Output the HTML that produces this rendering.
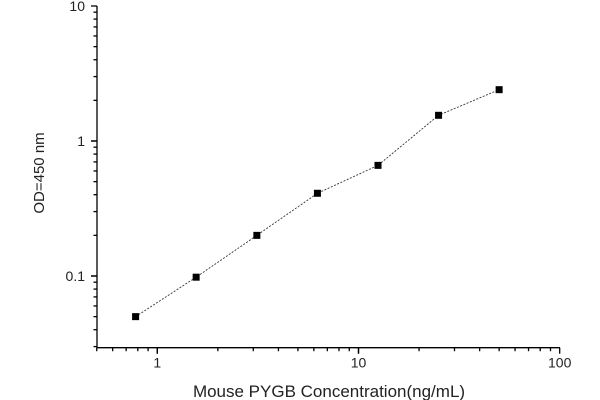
<!DOCTYPE html>
<html><head><meta charset="utf-8"><style>
html,body{margin:0;padding:0;background:#fff;}
svg{display:block;font-family:"Liberation Sans",Arial,sans-serif;}
</style></head><body>
<svg id="s" width="600" height="400" xmlns="http://www.w3.org/2000/svg"></svg>
<script>
const s=document.getElementById('s');
const X=v=>157.3+201.2*Math.log10(v);
const Y=v=>141-135*Math.log10(v);
let h='';
const L=97,B=347.7;
h+=`<line x1="${L}" y1="6" x2="${L}" y2="${B}" stroke="#000" stroke-width="1.3"/>`;
h+=`<line x1="${L}" y1="${B}" x2="560" y2="${B}" stroke="#000" stroke-width="1.3"/>`;
for(const d of [0.01,0.1,1]){for(let k=1;k<=10;k++){const v=d*k;if(v<0.03||v>10.001)continue;const y=Y(v);const len=(k==1||k==10)?6:3.5;h+=`<line x1="${L-len}" y1="${y}" x2="${L}" y2="${y}" stroke="#000" stroke-width="1.3"/>`;}}
for(const [v,t] of [[10,'10'],[1,'1'],[0.1,'0.1']]){h+=`<text x="${L-12}" y="${Y(v)+5}" font-size="14" text-anchor="end" fill="#222">${t}</text>`;}
for(const d of [0.1,1,10]){for(let k=1;k<=10;k++){const v=d*k;if(v<0.5||v>100.001)continue;const x=X(v);const len=(k==1||k==10)?6:3.5;h+=`<line x1="${x}" y1="${B}" x2="${x}" y2="${B+len}" stroke="#000" stroke-width="1.3"/>`;}}
for(const [v,t] of [[1,'1'],[10,'10'],[100,'100']]){h+=`<text x="${X(v)}" y="${B+20}" font-size="14" text-anchor="middle" fill="#222">${t}</text>`;}
const pts=[[0.78,0.05],[1.56,0.098],[3.125,0.2],[6.25,0.41],[12.5,0.66],[25,1.55],[50,2.4]];
h+=`<polyline fill="none" stroke="#333" stroke-width="0.9" stroke-dasharray="2,1.5" points="${pts.map(p=>X(p[0])+','+Y(p[1])).join(' ')}"/>`;
for(const p of pts){h+=`<rect x="${X(p[0])-3.5}" y="${Y(p[1])-3.5}" width="7" height="7" fill="#000"/>`;}
h+=`<text x="329" y="397" font-size="17" text-anchor="middle" fill="#222">Mouse PYGB Concentration(ng/mL)</text>`;
h+=`<text transform="translate(44,173) rotate(-90)" font-size="15" text-anchor="middle" fill="#222">OD=450 nm</text>`;
s.innerHTML=h;
</script>
</body></html>
